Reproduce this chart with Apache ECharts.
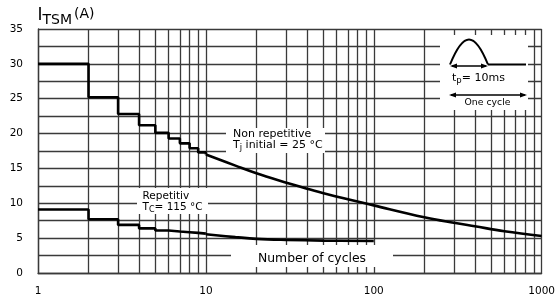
<!DOCTYPE html>
<html>
<head>
<meta charset="utf-8">
<script src="https://cdn.jsdelivr.net/npm/echarts@6/dist/echarts.min.js"></script>
<style>
html,body{margin:0;padding:0;background:#fff;}
#chart{width:558px;height:300px;}
</style>
</head>
<body>
<div id="chart"></div>
<script>
// ---- data ----
const xTickLabels = [1, 10, 100, 1000];
const yTickLabels = [0, 5, 10, 15, 20, 25, 30, 35];
const xGridValues = [2,3,4,5,6,7,8,9,20,30,40,50,60,70,80,90,200,300,400,500,600,700,800,900];

const nonRepStepX = [1, 2, 3, 4, 5, 6, 7, 8, 9, 10];
const nonRepStepY = [30.0, 25.2, 22.8, 21.2, 20.1, 19.3, 18.6, 17.9, 17.3, 17.0];
const nonRepCurveX = [10, 15, 20, 27, 40, 53, 100, 200, 300, 400, 600, 1000];
const nonRepCurveY = [17.0, 15.4, 14.3, 13.3, 12.1, 11.3, 9.7, 8.0, 7.2, 6.7, 6.0, 5.3];

const repStepX = [1, 2, 3, 4, 5, 6, 7, 8, 9, 10];
const repStepY = [9.1, 7.7, 6.9, 6.4, 6.1, 5.95, 5.85, 5.75, 5.65, 5.55];
const repCurveX = [10, 15, 20, 30, 50, 100];
const repCurveY = [5.55, 5.15, 4.9, 4.75, 4.65, 4.6];

const zip = (xs, ys) => xs.map((x, i) => [x, ys[i]]);

const FONT = '"DejaVu Sans", sans-serif';
const GRID_COLOR = '#3a3a3a';
const LINE_W = 2.6;

const chart = echarts.init(document.getElementById('chart'), null, {renderer: 'canvas'});

function arrow(x, y, dir) {
  return {type: 'polygon', z: 52, shape: {points: [[x, y], [x - dir * 7, y - 2.6], [x - dir * 7, y + 2.6]]}, style: {fill: '#000'}};
}

const dataLineStyle = {color: '#000', width: LINE_W};

const option = {
  animation: false,
  backgroundColor: '#fff',
  grid: {left: 38, right: 11, top: 29, bottom: 27, containLabel: false},
  xAxis: {
    type: 'log', logBase: 10, min: 1, max: 1000,
    axisLine: {show: true, lineStyle: {color: GRID_COLOR, width: 1.3}},
    axisTick: {show: false},
    axisLabel: {
      color: '#000', fontFamily: FONT, fontSize: 10.5, margin: 13,
      formatter: v => (xTickLabels.indexOf(v) >= 0 ? String(v) : '')
    },
    splitLine: {show: true, lineStyle: {color: GRID_COLOR, width: 1.3}}
  },
  yAxis: {
    type: 'value', min: 0, max: 35, interval: 2.5,
    axisLine: {show: true, lineStyle: {color: GRID_COLOR, width: 1.3}},
    axisTick: {show: false},
    axisLabel: {
      color: '#000', fontFamily: FONT, fontSize: 10.5, margin: 15,
      formatter: v => (yTickLabels.indexOf(v) >= 0 ? String(v) : '')
    },
    splitLine: {show: true, lineStyle: {color: GRID_COLOR, width: 1.3}}
  },
  series: [
    {
      name: 'grid', type: 'line', data: [], z: 1, silent: true,
      markLine: {
        silent: true, symbol: ['none', 'none'], label: {show: false},
        lineStyle: {type: 'solid', color: GRID_COLOR, width: 1.3},
        data: xGridValues.map(v => ({xAxis: v}))
      }
    },
    {name: 'nonRepSteps', type: 'line', step: 'end', z: 60, symbol: 'none', data: zip(nonRepStepX, nonRepStepY), lineStyle: dataLineStyle},
    {name: 'nonRepCurve', type: 'line', smooth: 0.4, z: 60, symbol: 'none', data: zip(nonRepCurveX, nonRepCurveY), lineStyle: dataLineStyle},
    {name: 'repSteps', type: 'line', step: 'end', z: 60, symbol: 'none', data: zip(repStepX, repStepY), lineStyle: dataLineStyle},
    {name: 'repCurve', type: 'line', smooth: 0.4, z: 60, symbol: 'none', data: zip(repCurveX, repCurveY), lineStyle: dataLineStyle}
  ],
  graphic: [
    // title
    {type: 'text', z: 51, x: 37.5, y: 16, style: {text: 'I', font: '17px ' + FONT, fill: '#000', verticalAlign: 'middle'}},
    {type: 'text', z: 51, x: 42.5, y: 20, style: {text: 'TSM', font: '14px ' + FONT, fill: '#000', verticalAlign: 'middle'}},
    {type: 'text', z: 51, x: 74, y: 14, style: {text: '(A)', font: '14px ' + FONT, fill: '#000', verticalAlign: 'middle'}},

    // white masks
    {type: 'rect', z: 50, shape: {x: 226, y: 128, width: 99, height: 25}, style: {fill: '#fff'}},
    {type: 'rect', z: 50, shape: {x: 137, y: 188, width: 71, height: 26}, style: {fill: '#fff'}},
    {type: 'rect', z: 50, shape: {x: 231, y: 245, width: 162, height: 22}, style: {fill: '#fff'}},
    {type: 'rect', z: 50, shape: {x: 440, y: 35, width: 88, height: 75}, style: {fill: '#fff'}},

    // annotations
    {type: 'text', z: 51, x: 233, y: 134.5, style: {text: 'Non repetitive', font: '11px ' + FONT, fill: '#000', verticalAlign: 'middle'}},
    {type: 'text', z: 51, x: 233, y: 145, style: {
      text: '{a|T}{b|j}{a| initial = 25 °C}',
      rich: {a: {font: '11px ' + FONT, fill: '#000'}, b: {font: '8.5px ' + FONT, fill: '#000', padding: [6, 0, 0, 0]}},
      verticalAlign: 'middle'}},
    {type: 'text', z: 51, x: 142.5, y: 196, style: {text: 'Repetitiv', font: '10.5px ' + FONT, fill: '#000', verticalAlign: 'middle'}},
    {type: 'text', z: 51, x: 142.5, y: 207, style: {
      text: '{a|T}{b|C}{a|= 115 °C}',
      rich: {a: {font: '10.5px ' + FONT, fill: '#000'}, b: {font: '8px ' + FONT, fill: '#000', padding: [5, 0, 0, 0]}},
      verticalAlign: 'middle'}},
    {type: 'text', z: 51, x: 312, y: 259, style: {text: 'Number of cycles', font: '12.4px ' + FONT, fill: '#000', align: 'center', verticalAlign: 'middle'}},

    // inset waveform
    {type: 'bezierCurve', z: 52, shape: {x1: 450, y1: 64.5, x2: 488, y2: 64.5, cpx1: 463.5, cpy1: 31, cpx2: 474.5, cpy2: 31}, style: {stroke: '#000', lineWidth: 2, fill: null}},
    {type: 'line', z: 52, shape: {x1: 488, y1: 64.5, x2: 526, y2: 64.5}, style: {stroke: '#000', lineWidth: 2}},
    {type: 'line', z: 52, shape: {x1: 452, y1: 66, x2: 486, y2: 66}, style: {stroke: '#000', lineWidth: 1.3}},
    arrow(450, 66, -1), arrow(488, 66, 1),
    {type: 'text', z: 52, x: 452, y: 78.5, style: {
      text: '{a|t}{b|p}{a|= 10ms}',
      rich: {a: {font: '11px ' + FONT, fill: '#000'}, b: {font: '8.5px ' + FONT, fill: '#000', padding: [5, 0, 0, 0]}},
      verticalAlign: 'middle'}},
    {type: 'line', z: 52, shape: {x1: 451, y1: 95, x2: 525, y2: 95}, style: {stroke: '#000', lineWidth: 1.3}},
    arrow(449, 95, -1), arrow(527, 95, 1),
    {type: 'text', z: 52, x: 487.5, y: 103, style: {text: 'One cycle', font: '9.3px ' + FONT, fill: '#000', align: 'center', verticalAlign: 'middle'}}
  ]
};

chart.setOption(option);
</script>
</body>
</html>
